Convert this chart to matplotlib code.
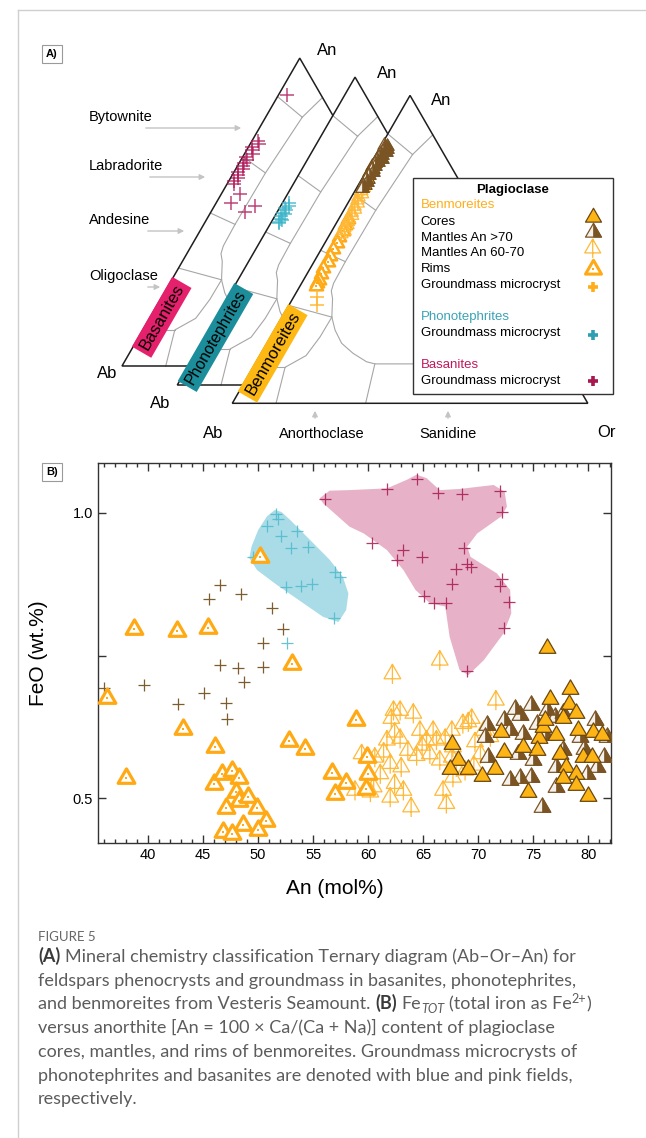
import numpy as np
import matplotlib
matplotlib.use("Agg")
import matplotlib.pyplot as plt
from matplotlib.path import Path
from matplotlib.patches import Polygon, Rectangle
from matplotlib.ticker import MultipleLocator

plt.rcParams["font.family"] = ["Liberation Sans", "DejaVu Sans"]

# ── Panel B: FeO (wt.%) vs An (mol%) ─────────────────────────────────────────
core_an  = [67.6, 68.2, 69.1, 67.4, 70.3, 71.5, 72.3, 72.1, 74.5, 75.5, 75.9, 76.5,
            78.3, 78.2, 77.1, 77.7, 78.9, 79.1, 80.4, 81.2, 77.4, 79.5, 80.3, 78.0,
            78.9, 77.7, 80.0, 78.9, 76.1, 75.3, 74.1, 76.2]
core_feo = [0.596, 0.567, 0.552, 0.552, 0.540, 0.552, 0.581, 0.616, 0.511, 0.605, 0.625, 0.675,
            0.692, 0.666, 0.611, 0.640, 0.649, 0.619, 0.616, 0.611, 0.578, 0.572, 0.572, 0.555,
            0.543, 0.535, 0.505, 0.523, 0.637, 0.584, 0.590, 0.763]

m70_an  = [70.8, 70.6, 70.9, 72.3, 73.3, 73.8, 74.8, 72.9, 74.1, 73.6, 73.8, 72.9, 74.8, 75.0,
           75.8, 76.2, 77.0, 77.7, 79.2, 80.6, 81.4, 80.8, 79.9, 77.1, 77.7, 79.6, 81.7, 76.1,
           75.3, 77.1]
m70_feo = [0.628, 0.608, 0.572, 0.637, 0.657, 0.646, 0.663, 0.619, 0.613, 0.578, 0.535, 0.532,
           0.537, 0.567, 0.485, 0.654, 0.643, 0.649, 0.608, 0.637, 0.572, 0.555, 0.543, 0.555,
           0.584, 0.587, 0.608, 0.611, 0.631, 0.520]

m60_an  = [62.2, 66.5, 71.6, 62.3, 62.9, 64.1, 62.1, 64.7, 62.4, 62.9, 61.7, 66.2, 67.0, 67.6,
           68.6, 69.4, 69.1, 64.9, 63.6, 61.4, 60.6, 64.4, 65.6, 66.5, 67.6, 62.0, 63.0, 61.1,
           62.4, 63.2, 60.5, 62.0, 63.9, 66.8, 67.1, 67.7, 68.0, 68.8, 69.6, 70.2, 65.9, 65.3,
           67.7, 69.7, 71.1, 70.5, 59.4, 60.2, 58.8]
m60_feo = [0.718, 0.742, 0.672, 0.654, 0.654, 0.649, 0.640, 0.619, 0.616, 0.605, 0.602, 0.602,
           0.605, 0.619, 0.631, 0.640, 0.634, 0.593, 0.584, 0.581, 0.572, 0.575, 0.578, 0.567,
           0.572, 0.561, 0.555, 0.543, 0.526, 0.514, 0.520, 0.502, 0.485, 0.514, 0.491, 0.537,
           0.555, 0.549, 0.558, 0.578, 0.619, 0.602, 0.590, 0.599, 0.608, 0.619, 0.578, 0.511,
           0.514]

rim_an  = [50.2, 38.7, 42.6, 45.4, 53.1, 36.3, 43.2, 46.1, 58.9, 52.8, 54.3, 38.0, 46.0, 46.7,
           47.6, 48.3, 48.0, 48.3, 49.1, 47.1, 49.9, 50.7, 48.6, 46.8, 47.6, 50.0, 56.7, 58.0,
           57.0, 59.9, 60.0, 59.8]
rim_feo = [0.923, 0.796, 0.793, 0.799, 0.736, 0.676, 0.621, 0.590, 0.637, 0.601, 0.587, 0.535,
           0.525, 0.543, 0.548, 0.535, 0.511, 0.495, 0.502, 0.484, 0.484, 0.460, 0.454, 0.442,
           0.438, 0.444, 0.544, 0.527, 0.508, 0.572, 0.543, 0.516]

ben_gm_an  = [46.5, 45.5, 48.4, 51.3, 52.3, 50.4, 46.5, 48.2, 50.4, 48.7, 39.6, 36.0, 45.1, 42.7,
              47.1, 47.2]
ben_gm_feo = [0.874, 0.849, 0.858, 0.833, 0.796, 0.772, 0.733, 0.728, 0.730, 0.704, 0.698, 0.694,
              0.685, 0.666, 0.668, 0.639]

pho_gm_an  = [51.6, 51.8, 50.8, 52.1, 53.5, 53.0, 54.5, 49.5, 57.0, 57.4, 52.5, 53.9, 54.9, 56.9,
              52.6]
pho_gm_feo = [0.999, 0.989, 0.977, 0.960, 0.968, 0.939, 0.940, 0.922, 0.897, 0.888, 0.871, 0.872,
              0.875, 0.816, 0.772]

bas_gm_an  = [64.4, 61.7, 66.3, 68.5, 72.0, 72.2, 60.3, 63.2, 62.6, 64.9, 68.7, 69.0, 69.3, 68.0,
              72.2, 72.0, 67.6, 65.1, 66.0, 67.1, 72.8, 72.3, 69.0, 56.1]
bas_gm_feo = [1.059, 1.042, 1.035, 1.033, 1.039, 1.002, 0.948, 0.935, 0.918, 0.922, 0.938, 0.911,
              0.906, 0.901, 0.885, 0.872, 0.875, 0.854, 0.843, 0.842, 0.844, 0.798, 0.723, 1.024]

# outlines of the phonotephrite (blue) and basanite (pink) groundmass fields
pho_field_an  = [51.5, 50.8, 50.0, 49.4, 49.2, 49.9, 51.7, 54.1, 55.9, 57.3, 58.0, 58.2, 57.7,
                 56.5, 54.7, 52.9, 52.1]
pho_field_feo = [1.005, 0.994, 0.970, 0.941, 0.921, 0.900, 0.874, 0.842, 0.818, 0.809, 0.830,
                 0.859, 0.888, 0.918, 0.953, 0.988, 1.002]
bas_field_an  = [55.6, 56.5, 58.3, 61.7, 63.5, 64.4, 65.3, 66.5, 68.3, 71.4, 72.4, 72.6, 72.1,
                 69.9, 69.0, 69.3, 71.7, 72.9, 73.0, 72.3, 70.5, 69.1, 68.3, 67.4, 67.0, 65.6,
                 64.3, 63.2, 61.7, 59.6, 58.3, 55.9]
bas_field_feo = [1.026, 1.039, 1.040, 1.043, 1.058, 1.067, 1.061, 1.040, 1.042, 1.049, 1.037,
                 1.011, 0.994, 0.964, 0.941, 0.923, 0.894, 0.865, 0.824, 0.789, 0.742, 0.716,
                 0.725, 0.783, 0.836, 0.842, 0.865, 0.900, 0.935, 0.964, 0.976, 1.017]

# ── Panel A: ternary compositions (An %, Or %) ────────────────────────────────
bas_t_an = [88, 73, 72, 71, 70, 69, 68, 67, 66, 65, 64, 63, 62, 61, 60, 59, 56, 53, 52, 50]
bas_t_or = [2.5, 1.8, 2.6, 1.2, 1.6, 2.3, 1.0, 1.8, 1.2, 1.5, 2.0, 1.0, 1.6, 2.2, 1.4, 2.0,
            5.2, 4.2, 11.5, 9.5]
pho_t_an = [59, 58, 57.5, 57, 56, 55.5, 55, 54, 53.5, 53, 52.5]
pho_t_or = [1.8, 2.5, 1.5, 2.2, 1.8, 2.6, 1.6, 2.2, 2.8, 2.0, 2.4]
core_t_an = [80, 78, 77, 76, 75, 74, 73, 72, 71, 70]
core_t_or = [1.0, 1.2, 0.8, 1.5, 1.0, 1.3, 1.6, 1.2, 1.8, 1.5]
m70_t_an = [84, 83.5, 83, 82.5, 82, 81.5, 81, 80.5, 80, 79.5, 79, 78.5, 78, 77, 76, 75, 74,
            73, 72, 71, 70]
m70_t_or = [0.8, 1.8, 1.2, 2.2, 1.5, 2.5, 1.0, 2.0, 1.4, 2.3, 1.2, 1.8, 1.0, 1.6, 1.2, 2.0,
            1.4, 1.0, 1.8, 1.2, 1.5]
m60_t_an = [72, 70, 69, 68, 67, 66, 65, 64, 63, 62, 61, 60, 59, 58, 57, 56, 55]
m60_t_or = [1.5, 2.0, 1.8, 2.5, 2.0, 2.2, 2.8, 2.4, 3.0, 2.6, 3.2, 2.8, 3.0, 3.4, 3.0, 3.6, 3.2]
rim_t_an = [60, 58, 56, 54, 52, 50, 48, 46, 44, 42, 40, 39, 38]
rim_t_or = [2.6, 2.8, 3.0, 3.0, 3.4, 3.2, 3.6, 3.8, 3.6, 4.0, 4.4, 4.2, 4.5]
gm_t_an = [34.6, 31.9]
gm_t_or = [6.4, 7.8]

# feldspar field boundaries, as (An %, Or %) vertices
FIELD_LINES = [
    [(87.5, 0), (80.8, 10.3)],
    [(80.8, 10.3), (87.2, 12.8)],
    [(68.0, 0), (62.7, 9.0)],
    [(49.7, 0), (46.0, 8.8)],
    [(31.8, 0), (28.0, 14.0)],
    [(11.7, 0), (11.7, 9.0)],
    [(80.8, 10.3), (62.7, 9.0), (46.0, 8.8), (39.0, 9.0), (36.5, 9.6), (34.0, 11.2), (28.0, 14.0),
     (23.8, 17.0), (19.5, 21.0), (16.2, 25.9), (13.5, 31.0), (12.8, 33.7), (12.8, 87.2)],
    [(28.0, 14.0), (21.6, 13.9), (15.5, 13.0), (11.7, 9.0), (0, 12.3)],
    [(12.8, 33.7), (0, 37.5)],
]

# ── styling ───────────────────────────────────────────────────────────────────
CORE_FC, CORE_EC = "#FDB515", "#6B4712"
BROWN = "#7B5424"
LIGHT_OR = "#FFB938"
RIM_C = "#FFA914"
GM_BROWN = "#7D5C2E"
CYAN, PINK = "#4DBACB", "#A8174E"

TRI = Path([(-0.5, -0.289), (0.5, -0.289), (0, 0.577), (-0.5, -0.289)],
           [Path.MOVETO, Path.LINETO, Path.LINETO, Path.CLOSEPOLY])
HALF = Path([(0, -0.289), (0.5, -0.289), (0, 0.577), (0, -0.289)],
            [Path.MOVETO, Path.LINETO, Path.LINETO, Path.CLOSEPOLY])
TREE = Path([(-0.5, -0.289), (0.5, -0.289), (0, 0.577), (-0.5, -0.289), (0, 0.577), (0, -0.6)],
            [Path.MOVETO, Path.LINETO, Path.LINETO, Path.CLOSEPOLY, Path.MOVETO, Path.LINETO])
TRI_F, TREE_F = 1.155, 1.2


def draw_marks(a, kind, x, y, size, z, color=None, lw=1.0, alpha=1.0):
    if kind == "core":
        a.scatter(x, y, marker=TRI, s=(size * TRI_F) ** 2, fc=CORE_FC, ec=CORE_EC,
                  lw=0.9, zorder=z)
    elif kind == "m70":
        a.scatter(x, y, marker=TRI, s=(size * TRI_F) ** 2, fc="#f4f1ec", ec=BROWN,
                  lw=0.9, zorder=z)
        a.scatter(x, y, marker=HALF, s=(size * TRI_F) ** 2, fc=BROWN, ec=BROWN,
                  lw=0.5, zorder=z)
    elif kind == "m60":
        a.scatter(x, y, marker=TREE, s=(size * TREE_F) ** 2, fc="none", ec=LIGHT_OR,
                  lw=0.9, zorder=z)
    elif kind == "rim":
        a.scatter(x, y, marker=TRI, s=(size * TRI_F) ** 2, fc="white", ec=RIM_C,
                  lw=size * 0.19, zorder=z)
        a.scatter(x, y, marker="s", s=(size * 0.16) ** 2, fc=RIM_C, lw=0, zorder=z)
    elif kind == "plus":
        a.scatter(x, y, marker="+", s=size ** 2, c=color, lw=lw, alpha=alpha, zorder=z)


SIDE = 355.5
HGT = SIDE * np.sqrt(3) / 2
ORIGINS = [(122.0, 366.0), (177.3, 385.0), (232.3, 403.3)]


def tern_xy(an, orr, k):
    x0, y0 = ORIGINS[k]
    a = np.asarray(an, float) / 100
    o = np.asarray(orr, float) / 100
    return x0 + SIDE * (o + a / 2), y0 - HGT * a


fig = plt.figure(figsize=(6.46, 11.38), dpi=100)
ax = fig.add_axes([0, 0, 1, 1])
ax.set_xlim(0, 646)
ax.set_ylim(1138, 0)
ax.axis("off")

# page frame
ax.plot([18, 18], [10, 1138], color="#cfcfcf", lw=1)
ax.plot([18, 646], [10, 10], color="#cfcfcf", lw=1)

# ── ternary panels, drawn back to front ──────────────────────────────────────
rock_labels = [("Basanites", "#E5206C", (161.7, 317.3), 12),
               ("Phonotephrites", "#1C8E9B", (215.5, 337.5), 11.3),
               ("Benmoreites", "#FDB813", (272.7, 353.3), 12)]
for k in range(3):
    zb = 10 * k
    cx, cy = tern_xy([0, 0, 100], [0, 100, 0], k)
    ax.add_patch(Polygon(np.c_[cx, cy], closed=True, fc="white", ec="none", zorder=zb + 1))
    for line in FIELD_LINES:
        lx, ly = tern_xy([p[0] for p in line], [p[1] for p in line], k)
        ax.plot(lx, ly, color="#a6a6a6", lw=0.8, zorder=zb + 2, solid_joinstyle="round")
    ax.add_patch(Polygon(np.c_[cx, cy], closed=True, fc="none", ec="#1e1e1e", lw=1.1,
                         zorder=zb + 3))
    text, colour, pos, fs = rock_labels[k]
    ax.text(pos[0], pos[1], text, rotation=60, ha="center", va="center", fontsize=fs,
            rotation_mode="anchor", zorder=zb + 6,
            bbox=dict(boxstyle="square,pad=0.22", fc=colour, ec="none"))

x, y = tern_xy(bas_t_an, bas_t_or, 0)
draw_marks(ax, "plus", x, y, 10, 5, color="#B0185A", lw=1.1, alpha=0.8)
x, y = tern_xy(pho_t_an, pho_t_or, 1)
draw_marks(ax, "plus", x, y, 10, 15, color="#3DB5C8", lw=1.1, alpha=0.85)
for kind, an, orr in [("rim", rim_t_an, rim_t_or), ("m60", m60_t_an, m60_t_or),
                      ("core", core_t_an, core_t_or), ("m70", m70_t_an, m70_t_or)]:
    x, y = tern_xy(an, orr, 2)
    draw_marks(ax, kind, x, y, 9.5, 25)
x, y = tern_xy(gm_t_an, gm_t_or, 2)
draw_marks(ax, "plus", x, y, 10, 25, color=LIGHT_OR, lw=1.1)

# corner labels
for txt, (tx, ty) in [("An", (327, 50)), ("An", (387, 73)), ("An", (441, 100)),
                      ("Ab", (107, 373)), ("Ab", (160, 403)), ("Ab", (213, 433)),
                      ("Or", (606, 432))]:
    ax.text(tx, ty, txt, fontsize=12, ha="center", va="center", zorder=50)

arrow_kw = dict(arrowstyle="-|>", color="#c4c4c4", lw=1.0, mutation_scale=8)
for name, ty, x0, x1 in [("Bytownite", 117, 143, 244), ("Labradorite", 166, 147, 208),
                         ("Andesine", 220, 145, 187), ("Oligoclase", 276, 145, 163)]:
    ax.text(89, ty, name, fontsize=10.5, ha="left", va="center", zorder=2)
    ax.annotate("", xy=(x1, ty + 11), xytext=(x0, ty + 11), arrowprops=arrow_kw, zorder=2)
for name, tx, ax_x in [("Anorthoclase", 322, 315), ("Sanidine", 448, 448)]:
    ax.text(tx, 434, name, fontsize=10.5, ha="center", va="center", zorder=50)
    ax.annotate("", xy=(ax_x, 408), xytext=(ax_x, 421), arrowprops=arrow_kw, zorder=50)

# legend box
ax.add_patch(Rectangle((413, 178), 200, 216, fc="white", ec="#333333", lw=1.0, zorder=40))
ax.text(513, 190, "Plagioclase", fontsize=9.5, fontweight="bold", ha="center", va="center",
        zorder=41)
legend_rows = [("Benmoreites", "#FFAE1A", 205, None),
               ("Cores", "black", 221.7, "core"),
               ("Mantles An >70", "black", 237.7, "m70"),
               ("Mantles An 60-70", "black", 253.3, "m60"),
               ("Rims", "black", 269.3, "rim"),
               ("Groundmass microcryst", "black", 285.3, "gm_ben"),
               ("Phonotephrites", "#3AA3B6", 317.3, None),
               ("Groundmass microcryst", "black", 333.3, "gm_pho"),
               ("Basanites", "#C2185B", 365, None),
               ("Groundmass microcryst", "black", 381, "gm_bas")]
sym_y = {"core": 216.7, "m70": 231.7, "m60": 248.3, "rim": 269.3, "gm_ben": 286.7,
         "gm_pho": 335, "gm_bas": 381}
plus_col = {"gm_ben": "#FFAE1A", "gm_pho": "#2E9FB2", "gm_bas": "#A8174E"}
for text, colour, ty, kind in legend_rows:
    ax.text(420.7, ty, text, fontsize=9.5, color=colour, ha="left", va="center", zorder=41)
    if kind is None:
        continue
    if kind.startswith("gm_"):
        draw_marks(ax, "plus", [592.7], [sym_y[kind]], 7.5, 42, color=plus_col[kind], lw=2.6)
    else:
        draw_marks(ax, kind, [592.7], [sym_y[kind]], 11.5, 42)

# panel tags
for tag, ty in [("A)", 54), ("B)", 472)]:
    ax.text(52, ty, tag, fontsize=8, fontweight="bold", ha="center", va="center", zorder=50,
            bbox=dict(boxstyle="square,pad=0.35", fc="white", ec="#9a9a9a", lw=0.8))

# ── Panel B ───────────────────────────────────────────────────────────────────
axb = fig.add_axes([98 / 646, 1 - 843.3 / 1138, 513 / 646, 380.6 / 1138])
axb.fill(pho_field_an, pho_field_feo, color="#A9DCE7", lw=0, zorder=1)
axb.fill(bas_field_an, bas_field_feo, color="#E7B2C7", lw=0, zorder=1)
draw_marks(axb, "plus", pho_gm_an, pho_gm_feo, 8.5, 2, color=CYAN, lw=0.9, alpha=0.85)
draw_marks(axb, "plus", bas_gm_an, bas_gm_feo, 8.5, 2, color=PINK, lw=0.9, alpha=0.85)
draw_marks(axb, "plus", ben_gm_an, ben_gm_feo, 8.5, 2, color=GM_BROWN, lw=0.9)
draw_marks(axb, "m60", m60_an, m60_feo, 12, 3)
draw_marks(axb, "rim", rim_an, rim_feo, 12, 4)
draw_marks(axb, "m70", m70_an, m70_feo, 12, 5)
draw_marks(axb, "core", core_an, core_feo, 12, 6)

axb.set_xlim(35.45, 82.06)
axb.set_ylim(0.4214, 1.088)
axb.set_xticks(range(40, 81, 5))
axb.xaxis.set_minor_locator(MultipleLocator(1))
axb.set_yticks([0.5, 0.75, 1.0])
axb.set_yticklabels(["0.5", "", "1.0"])
axb.tick_params(which="both", direction="in", top=True, right=True, color="#333333",
                labelsize=10.5, width=1.0)
axb.tick_params(which="major", length=6)
axb.tick_params(which="minor", length=3)
for sp in axb.spines.values():
    sp.set_color("#333333")
    sp.set_linewidth(1.0)
axb.set_xlabel("An (mol%)", fontsize=15)
axb.set_ylabel("FeO (wt.%)", fontsize=15)
axb.xaxis.set_label_coords(0.462, -0.094)
axb.yaxis.set_label_coords(-0.097, 0.5)

# ── caption ───────────────────────────────────────────────────────────────────
CAP_FS = 13.0
ax.text(38, 937, "FIGURE 5", fontsize=9.5, color="#666666", family="Lato", ha="left",
        va="center")
# segments: (text, style); styles: n normal, b bold, sub/sup small shifted text
CAPTION = [
    [("(A)", "b"), (" Mineral chemistry classification Ternary diagram (Ab\u2013Or\u2013An) for", "n")],
    [("feldspars phenocrysts and groundmass in basanites, phonotephrites,", "n")],
    [("and benmoreites from Vesteris Seamount. ", "n"), ("(B)", "b"), (" Fe", "n"),
     ("TOT", "sub"), (" (total iron as Fe", "n"), ("2+", "sup"), (")", "n")],
    [("versus anorthite [An = 100 \u00d7 Ca/(Ca + Na)] content of plagioclase", "n")],
    [("cores, mantles, and rims of benmoreites. Groundmass microcrysts of", "n")],
    [("phonotephrites and basanites are denoted with blue and pink fields,", "n")],
    [("respectively.", "n")],
]
renderer = fig.canvas.get_renderer()
probe = ax.text(0, 0, "a a", fontsize=CAP_FS, family="Lato")
probe2 = ax.text(0, 0, "aa", fontsize=CAP_FS, family="Lato")
space_w = probe.get_window_extent(renderer).width - probe2.get_window_extent(renderer).width
probe.remove()
probe2.remove()
for i, segs in enumerate(CAPTION):
    cx = 38
    base = 962 + 23.7 * i
    for text, style in segs:
        if text.startswith(" "):
            cx += space_w
        kw = dict(family="Lato", ha="left", va="baseline", color="#5c5c5c", fontsize=CAP_FS)
        ty = base
        if style == "b":
            kw.update(fontweight="bold", color="#3a3a3a")
        elif style == "sub":
            kw.update(fontsize=CAP_FS * 0.7, style="italic")
            ty = base + 4
        elif style == "sup":
            kw.update(fontsize=CAP_FS * 0.7)
            ty = base - 6
        t = ax.text(cx, ty, text.strip(), **kw)
        cx += t.get_window_extent(renderer).width
        if text.endswith(" "):
            cx += space_w

fig.savefig("out.png", dpi=100)
